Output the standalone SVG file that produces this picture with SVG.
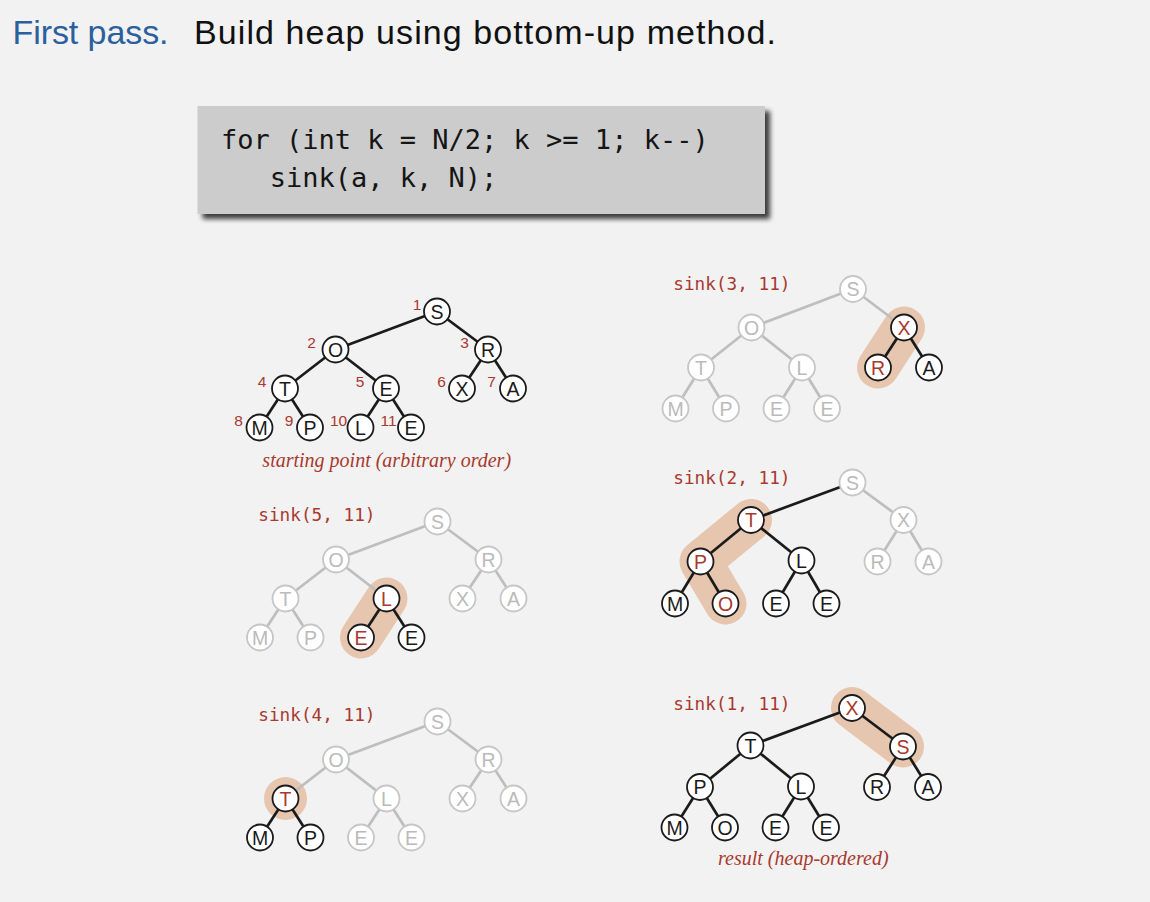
<svg xmlns="http://www.w3.org/2000/svg" width="1150" height="902" viewBox="0 0 1150 902">
  <defs>
    <filter id="boxShadow" x="-5%" y="-20%" width="115%" height="150%">
      <feDropShadow dx="5" dy="5" stdDeviation="2.5" flood-color="#000" flood-opacity="0.75"/>
    </filter>
  </defs>
  <style>
    .node circle{fill:#fff;stroke:#1b1b1b;stroke-width:1.8}
    .node text{font-family:"Liberation Sans",Arial,sans-serif;font-size:19.5px;text-anchor:middle;fill:#1b1b1b}
    .node.off circle{stroke:#c6c6c6}
    .node.off text{fill:#bababa}
    .node.hot text{fill:#a8392e}
    .edges line{stroke:#1b1b1b;stroke-width:2.7}
    .edges line.off{stroke:#bebebe}
    .hl{fill:none;stroke:#e7c6af;stroke-width:42;stroke-linecap:round;stroke-linejoin:round}
    .hl-dot{fill:#e7c6af}
    .idx{font-family:"Liberation Sans",Arial,sans-serif;font-size:15.5px;fill:#a8392e;text-anchor:middle}
    .call{font-family:"DejaVu Sans Mono",monospace;font-size:17.7px;fill:#a8392e}
    .cap{font-family:"Liberation Serif",serif;font-style:italic;font-size:20px;fill:#a8392e;text-anchor:middle}
    .code{font-family:"DejaVu Sans Mono",monospace;font-size:27px;fill:#151515;white-space:pre}
  </style>

  <rect width="1150" height="902" fill="#f2f2f2"/>

  <!-- heading -->
  <g id="title" font-family="'Liberation Sans',Arial,sans-serif" font-size="34">
    <text x="12.5" y="44" fill="#2a609d" textLength="156" lengthAdjust="spacing">First pass.</text>
    <text x="194" y="44" fill="#111" textLength="582" lengthAdjust="spacing">Build heap using bottom-up method.</text>
  </g>

  <!-- code panel -->
  <g id="code">
    <rect x="197.5" y="106" width="567.5" height="108" fill="#cccccc" filter="url(#boxShadow)"/>
    <text class="code" x="221" y="148.5" xml:space="preserve">for (int k = N/2; k &gt;= 1; k--)</text>
    <text class="code" x="221" y="187" xml:space="preserve">   sink(a, k, N);</text>
  </g>

  <!-- starting point -->
  <g id="tree-start" transform="translate(437,311.5)">
    <g class="edges">
      <line x1="0" y1="0" x2="-101.5" y2="38"/>
      <line x1="0" y1="0" x2="51" y2="38"/>
      <line x1="-101.5" y1="38" x2="-152" y2="77"/>
      <line x1="-101.5" y1="38" x2="-51" y2="77"/>
      <line x1="51" y1="38" x2="25" y2="77"/>
      <line x1="51" y1="38" x2="76" y2="77"/>
      <line x1="-152" y1="77" x2="-177.5" y2="116"/>
      <line x1="-152" y1="77" x2="-127" y2="116"/>
      <line x1="-51" y1="77" x2="-76.5" y2="116"/>
      <line x1="-51" y1="77" x2="-26" y2="116"/>
    </g>
    <g id="s-n1" class="node"><circle cx="0" cy="0" r="13"/><text x="0" y="7">S</text></g>
    <g id="s-n2" class="node"><circle cx="-101.5" cy="38" r="13"/><text x="-101.5" y="45">O</text></g>
    <g id="s-n3" class="node"><circle cx="51" cy="38" r="13"/><text x="51" y="45">R</text></g>
    <g id="s-n4" class="node"><circle cx="-152" cy="77" r="13"/><text x="-152" y="84">T</text></g>
    <g id="s-n5" class="node"><circle cx="-51" cy="77" r="13"/><text x="-51" y="84">E</text></g>
    <g id="s-n6" class="node"><circle cx="25" cy="77" r="13"/><text x="25" y="84">X</text></g>
    <g id="s-n7" class="node"><circle cx="76" cy="77" r="13"/><text x="76" y="84">A</text></g>
    <g id="s-n8" class="node"><circle cx="-177.5" cy="116" r="13"/><text x="-177.5" y="123">M</text></g>
    <g id="s-n9" class="node"><circle cx="-127" cy="116" r="13"/><text x="-127" y="123">P</text></g>
    <g id="s-n10" class="node"><circle cx="-76.5" cy="116" r="13"/><text x="-76.5" y="123">L</text></g>
    <g id="s-n11" class="node"><circle cx="-26" cy="116" r="13"/><text x="-26" y="123">E</text></g>
    <g id="s-index">
      <text class="idx" x="-20" y="-1.7">1</text>
      <text class="idx" x="-125.5" y="36.3">2</text>
      <text class="idx" x="27.5" y="36.3">3</text>
      <text class="idx" x="-175" y="75.3">4</text>
      <text class="idx" x="-77" y="75.3">5</text>
      <text class="idx" x="4.5" y="75.3">6</text>
      <text class="idx" x="54.5" y="75.3">7</text>
      <text class="idx" x="-198.5" y="114.3">8</text>
      <text class="idx" x="-148" y="114.3">9</text>
      <text class="idx" x="-98.5" y="114.3">10</text>
      <text class="idx" x="-48.5" y="114.3">11</text>
    </g>
    <text class="cap" x="-50.3" y="155">starting point (arbitrary order)</text>
  </g>

  <!-- sink(5, 11) -->
  <text class="call" x="258.3" y="521">sink(5, 11)</text>
  <g id="tree-k5" transform="translate(437.5,521.5)">
    <path class="hl" d="M-51,77 L-76.5,116"/>
    <g class="edges">
      <line class="off" x1="0" y1="0" x2="-101.5" y2="38"/>
      <line class="off" x1="0" y1="0" x2="51" y2="38"/>
      <line class="off" x1="-101.5" y1="38" x2="-152" y2="77"/>
      <line class="off" x1="-101.5" y1="38" x2="-51" y2="77"/>
      <line class="off" x1="51" y1="38" x2="25" y2="77"/>
      <line class="off" x1="51" y1="38" x2="76" y2="77"/>
      <line class="off" x1="-152" y1="77" x2="-177.5" y2="116"/>
      <line class="off" x1="-152" y1="77" x2="-127" y2="116"/>
      <line x1="-51" y1="77" x2="-76.5" y2="116"/>
      <line x1="-51" y1="77" x2="-26" y2="116"/>
    </g>
    <g id="k5-n1" class="node off"><circle cx="0" cy="0" r="13"/><text x="0" y="7">S</text></g>
    <g id="k5-n2" class="node off"><circle cx="-101.5" cy="38" r="13"/><text x="-101.5" y="45">O</text></g>
    <g id="k5-n3" class="node off"><circle cx="51" cy="38" r="13"/><text x="51" y="45">R</text></g>
    <g id="k5-n4" class="node off"><circle cx="-152" cy="77" r="13"/><text x="-152" y="84">T</text></g>
    <g id="k5-n5" class="node hot"><circle cx="-51" cy="77" r="13"/><text x="-51" y="84">L</text></g>
    <g id="k5-n6" class="node off"><circle cx="25" cy="77" r="13"/><text x="25" y="84">X</text></g>
    <g id="k5-n7" class="node off"><circle cx="76" cy="77" r="13"/><text x="76" y="84">A</text></g>
    <g id="k5-n8" class="node off"><circle cx="-177.5" cy="116" r="13"/><text x="-177.5" y="123">M</text></g>
    <g id="k5-n9" class="node off"><circle cx="-127" cy="116" r="13"/><text x="-127" y="123">P</text></g>
    <g id="k5-n10" class="node hot"><circle cx="-76.5" cy="116" r="13"/><text x="-76.5" y="123">E</text></g>
    <g id="k5-n11" class="node"><circle cx="-26" cy="116" r="13"/><text x="-26" y="123">E</text></g>
  </g>

  <!-- sink(4, 11) -->
  <text class="call" x="258.3" y="721">sink(4, 11)</text>
  <g id="tree-k4" transform="translate(437.5,721.5)">
    <circle class="hl-dot" cx="-152" cy="77" r="21.5"/>
    <g class="edges">
      <line class="off" x1="0" y1="0" x2="-101.5" y2="38"/>
      <line class="off" x1="0" y1="0" x2="51" y2="38"/>
      <line class="off" x1="-101.5" y1="38" x2="-152" y2="77"/>
      <line class="off" x1="-101.5" y1="38" x2="-51" y2="77"/>
      <line class="off" x1="51" y1="38" x2="25" y2="77"/>
      <line class="off" x1="51" y1="38" x2="76" y2="77"/>
      <line x1="-152" y1="77" x2="-177.5" y2="116"/>
      <line x1="-152" y1="77" x2="-127" y2="116"/>
      <line class="off" x1="-51" y1="77" x2="-76.5" y2="116"/>
      <line class="off" x1="-51" y1="77" x2="-26" y2="116"/>
    </g>
    <g id="k4-n1" class="node off"><circle cx="0" cy="0" r="13"/><text x="0" y="7">S</text></g>
    <g id="k4-n2" class="node off"><circle cx="-101.5" cy="38" r="13"/><text x="-101.5" y="45">O</text></g>
    <g id="k4-n3" class="node off"><circle cx="51" cy="38" r="13"/><text x="51" y="45">R</text></g>
    <g id="k4-n4" class="node hot"><circle cx="-152" cy="77" r="13"/><text x="-152" y="84">T</text></g>
    <g id="k4-n5" class="node off"><circle cx="-51" cy="77" r="13"/><text x="-51" y="84">L</text></g>
    <g id="k4-n6" class="node off"><circle cx="25" cy="77" r="13"/><text x="25" y="84">X</text></g>
    <g id="k4-n7" class="node off"><circle cx="76" cy="77" r="13"/><text x="76" y="84">A</text></g>
    <g id="k4-n8" class="node"><circle cx="-177.5" cy="116" r="13"/><text x="-177.5" y="123">M</text></g>
    <g id="k4-n9" class="node"><circle cx="-127" cy="116" r="13"/><text x="-127" y="123">P</text></g>
    <g id="k4-n10" class="node off"><circle cx="-76.5" cy="116" r="13"/><text x="-76.5" y="123">E</text></g>
    <g id="k4-n11" class="node off"><circle cx="-26" cy="116" r="13"/><text x="-26" y="123">E</text></g>
  </g>

  <!-- sink(3, 11) -->
  <text class="call" x="673.3" y="289.5">sink(3, 11)</text>
  <g id="tree-k3" transform="translate(853,289)">
    <path class="hl" d="M51,38.5 L25,78.5"/>
    <g class="edges">
      <line class="off" x1="0" y1="0" x2="-101.5" y2="38.5"/>
      <line class="off" x1="0" y1="0" x2="51" y2="38.5"/>
      <line class="off" x1="-101.5" y1="38.5" x2="-152" y2="78.5"/>
      <line class="off" x1="-101.5" y1="38.5" x2="-51" y2="78.5"/>
      <line x1="51" y1="38.5" x2="25" y2="78.5"/>
      <line x1="51" y1="38.5" x2="76" y2="78.5"/>
      <line class="off" x1="-152" y1="78.5" x2="-177.5" y2="119.5"/>
      <line class="off" x1="-152" y1="78.5" x2="-127" y2="119.5"/>
      <line class="off" x1="-51" y1="78.5" x2="-76.5" y2="119.5"/>
      <line class="off" x1="-51" y1="78.5" x2="-26" y2="119.5"/>
    </g>
    <g id="k3-n1" class="node off"><circle cx="0" cy="0" r="13"/><text x="0" y="7">S</text></g>
    <g id="k3-n2" class="node off"><circle cx="-101.5" cy="38.5" r="13"/><text x="-101.5" y="45.5">O</text></g>
    <g id="k3-n3" class="node hot"><circle cx="51" cy="38.5" r="13"/><text x="51" y="45.5">X</text></g>
    <g id="k3-n4" class="node off"><circle cx="-152" cy="78.5" r="13"/><text x="-152" y="85.5">T</text></g>
    <g id="k3-n5" class="node off"><circle cx="-51" cy="78.5" r="13"/><text x="-51" y="85.5">L</text></g>
    <g id="k3-n6" class="node hot"><circle cx="25" cy="78.5" r="13"/><text x="25" y="85.5">R</text></g>
    <g id="k3-n7" class="node"><circle cx="76" cy="78.5" r="13"/><text x="76" y="85.5">A</text></g>
    <g id="k3-n8" class="node off"><circle cx="-177.5" cy="119.5" r="13"/><text x="-177.5" y="126.5">M</text></g>
    <g id="k3-n9" class="node off"><circle cx="-127" cy="119.5" r="13"/><text x="-127" y="126.5">P</text></g>
    <g id="k3-n10" class="node off"><circle cx="-76.5" cy="119.5" r="13"/><text x="-76.5" y="126.5">E</text></g>
    <g id="k3-n11" class="node off"><circle cx="-26" cy="119.5" r="13"/><text x="-26" y="126.5">E</text></g>
  </g>

  <!-- sink(2, 11) -->
  <text class="call" x="673.3" y="484">sink(2, 11)</text>
  <g id="tree-k2" transform="translate(852.5,482.5)">
    <path class="hl" d="M-101.5,37.5 L-152,79 L-127,121"/>
    <g class="edges">
      <line x1="0" y1="0" x2="-101.5" y2="37.5"/>
      <line class="off" x1="0" y1="0" x2="51" y2="37.5"/>
      <line x1="-101.5" y1="37.5" x2="-152" y2="79"/>
      <line x1="-101.5" y1="37.5" x2="-51" y2="78"/>
      <line class="off" x1="51" y1="37.5" x2="25" y2="79"/>
      <line class="off" x1="51" y1="37.5" x2="76" y2="79"/>
      <line x1="-152" y1="79" x2="-177.5" y2="121"/>
      <line x1="-152" y1="79" x2="-127" y2="121"/>
      <line x1="-51" y1="78" x2="-76.5" y2="121"/>
      <line x1="-51" y1="78" x2="-26" y2="121"/>
    </g>
    <g id="k2-n1" class="node off"><circle cx="0" cy="0" r="13"/><text x="0" y="7">S</text></g>
    <g id="k2-n2" class="node hot"><circle cx="-101.5" cy="37.5" r="13"/><text x="-101.5" y="44.5">T</text></g>
    <g id="k2-n3" class="node off"><circle cx="51" cy="37.5" r="13"/><text x="51" y="44.5">X</text></g>
    <g id="k2-n4" class="node hot"><circle cx="-152" cy="79" r="13"/><text x="-152" y="86">P</text></g>
    <g id="k2-n5" class="node"><circle cx="-51" cy="78" r="13"/><text x="-51" y="85">L</text></g>
    <g id="k2-n6" class="node off"><circle cx="25" cy="79" r="13"/><text x="25" y="86">R</text></g>
    <g id="k2-n7" class="node off"><circle cx="76" cy="79" r="13"/><text x="76" y="86">A</text></g>
    <g id="k2-n8" class="node"><circle cx="-177.5" cy="121" r="13"/><text x="-177.5" y="128">M</text></g>
    <g id="k2-n9" class="node hot"><circle cx="-127" cy="121" r="13"/><text x="-127" y="128">O</text></g>
    <g id="k2-n10" class="node"><circle cx="-76.5" cy="121" r="13"/><text x="-76.5" y="128">E</text></g>
    <g id="k2-n11" class="node"><circle cx="-26" cy="121" r="13"/><text x="-26" y="128">E</text></g>
  </g>

  <!-- sink(1, 11) -->
  <text class="call" x="673.3" y="709.5">sink(1, 11)</text>
  <g id="tree-k1" transform="translate(852,708)">
    <path class="hl" d="M0,0 L51,38.5"/>
    <g class="edges">
      <line x1="0" y1="0" x2="-101.5" y2="37.5"/>
      <line x1="0" y1="0" x2="51" y2="38.5"/>
      <line x1="-101.5" y1="37.5" x2="-152" y2="79"/>
      <line x1="-101.5" y1="37.5" x2="-51" y2="78.5"/>
      <line x1="51" y1="38.5" x2="25" y2="79"/>
      <line x1="51" y1="38.5" x2="76" y2="79"/>
      <line x1="-152" y1="79" x2="-177.5" y2="119.5"/>
      <line x1="-152" y1="79" x2="-127" y2="119.5"/>
      <line x1="-51" y1="78.5" x2="-76.5" y2="119.5"/>
      <line x1="-51" y1="78.5" x2="-26" y2="119.5"/>
    </g>
    <g id="k1-n1" class="node hot"><circle cx="0" cy="0" r="13"/><text x="0" y="7">X</text></g>
    <g id="k1-n2" class="node"><circle cx="-101.5" cy="37.5" r="13"/><text x="-101.5" y="44.5">T</text></g>
    <g id="k1-n3" class="node hot"><circle cx="51" cy="38.5" r="13"/><text x="51" y="45.5">S</text></g>
    <g id="k1-n4" class="node"><circle cx="-152" cy="79" r="13"/><text x="-152" y="86">P</text></g>
    <g id="k1-n5" class="node"><circle cx="-51" cy="78.5" r="13"/><text x="-51" y="85.5">L</text></g>
    <g id="k1-n6" class="node"><circle cx="25" cy="79" r="13"/><text x="25" y="86">R</text></g>
    <g id="k1-n7" class="node"><circle cx="76" cy="79" r="13"/><text x="76" y="86">A</text></g>
    <g id="k1-n8" class="node"><circle cx="-177.5" cy="119.5" r="13"/><text x="-177.5" y="126.5">M</text></g>
    <g id="k1-n9" class="node"><circle cx="-127" cy="119.5" r="13"/><text x="-127" y="126.5">O</text></g>
    <g id="k1-n10" class="node"><circle cx="-76.5" cy="119.5" r="13"/><text x="-76.5" y="126.5">E</text></g>
    <g id="k1-n11" class="node"><circle cx="-26" cy="119.5" r="13"/><text x="-26" y="126.5">E</text></g>
    <text class="cap" x="-48.7" y="157">result (heap-ordered)</text>
  </g>
</svg>
